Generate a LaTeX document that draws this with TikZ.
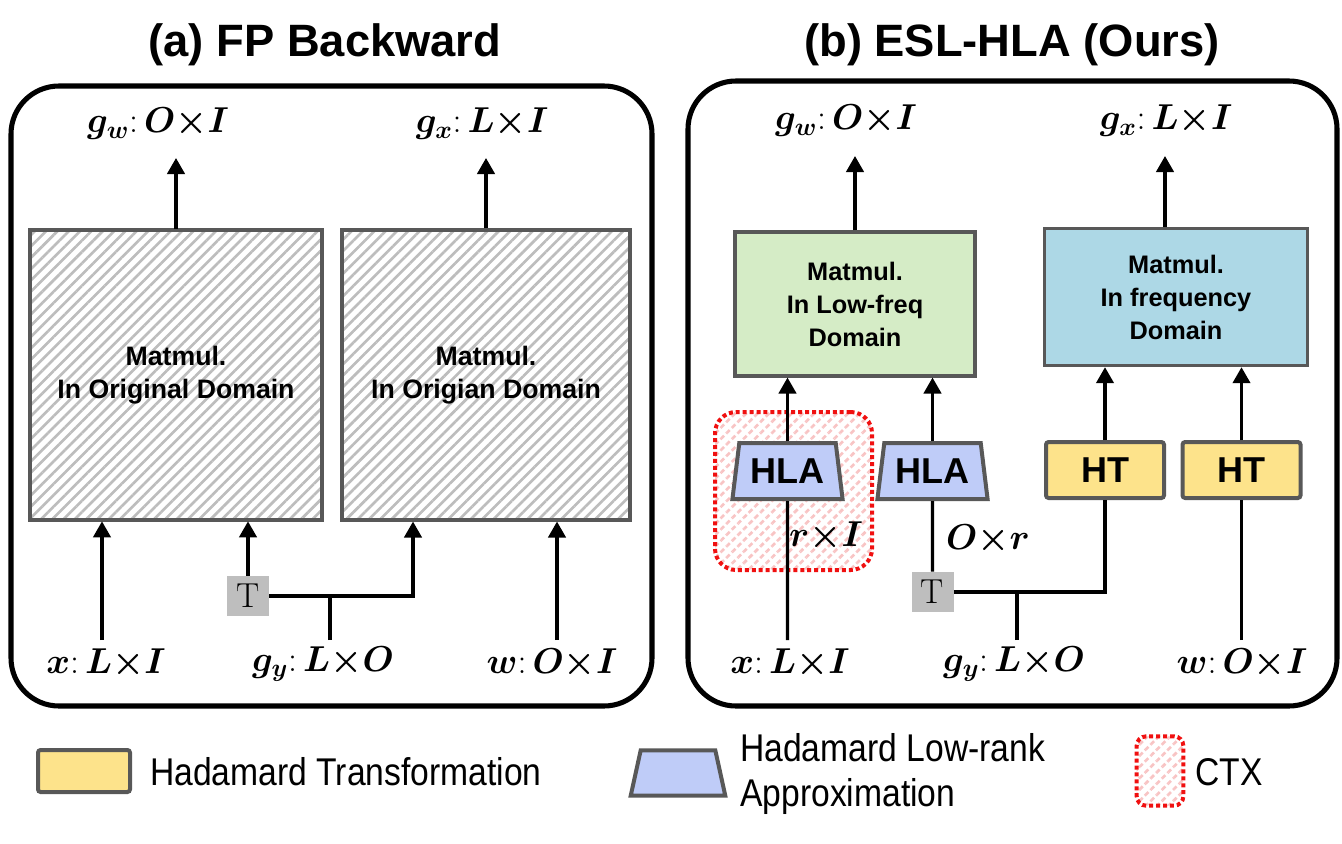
\RequirePackage{fix-cm}
\documentclass[tikz,border=0pt]{standalone}
\usepackage{amsmath,bm}
\usepackage{fontspec}
\newfontfamily\arial{Liberation Sans}
\newfontfamily\arialn[FakeStretch=0.87]{Liberation Sans}
\usetikzlibrary{shapes.geometric,patterns.meta,arrows.meta}
\definecolor{htfill}{HTML}{FDE38B}
\definecolor{hlafill}{HTML}{BFCCF8}
\definecolor{greenfill}{HTML}{D5ECC6}
\definecolor{bluefill}{HTML}{ADD8E6}
\definecolor{boxgray}{HTML}{585858}
\definecolor{hatchgray}{HTML}{BDBDBD}
\definecolor{tgray}{HTML}{BEBEBE}
\definecolor{ctxred}{HTML}{F01010}
\definecolor{ctxpink}{HTML}{F8C4C4}
\begin{document}
\begin{tikzpicture}[x=0.75pt,y=-0.75pt,
  panel/.style={draw=black,line width=3.8pt,rounded corners=36pt},
  title/.style={font=\arial\bfseries\fontsize{34}{40}\selectfont},
  hatchbox/.style={draw=boxgray,line width=2.3pt,
    pattern={Lines[angle=45,distance=6pt,line width=2pt]},pattern color=hatchgray,
    align=center,font=\arial\bfseries\fontsize{20}{24.75}\selectfont},
  mmbox/.style={draw=boxgray,line width=2.3pt,align=center,
    font=\arial\bfseries\fontsize{19}{24.75}\selectfont},
  htbox/.style={draw=boxgray,fill=htfill,line width=3pt,rounded corners=2pt,
    minimum width=88.5pt,minimum height=42pt,inner sep=0pt,
    font=\arial\bfseries\fontsize{27}{30}\selectfont},
  hlabox/.style={trapezium,trapezium angle=78,trapezium stretches=true,
    draw=boxgray,fill=hlafill,line width=3pt,
    minimum width=83pt,minimum height=42pt,inner sep=0pt,
    font=\arial\bfseries\fontsize{27}{30}\selectfont},
  tbox/.style={fill=tgray,minimum width=31.5pt,minimum height=30pt,inner sep=0pt,
    font=\fontsize{26}{26}\selectfont},
  ctxbox/.style={draw=ctxred,line width=3pt,dash pattern=on 3pt off 2.2pt,
    rounded corners=16pt,
    pattern={Lines[angle=45,distance=6pt,line width=2pt]},pattern color=ctxpink},
  mlab/.style={font=\fontsize{27}{30}\selectfont,inner sep=0pt},
  leg/.style={font=\arialn\fontsize{29}{34}\selectfont,align=left,inner sep=0pt},
  ln/.style={line width=2.4pt},
  arr/.style={line width=2.4pt,-{Triangle[width=13pt,length=12pt]}},
]
\useasboundingbox (0,0) rectangle (1342,843);

% ---------- titles ----------
\node[title] (ta) at (325,45) {(a) FP Backward};
\node[title] (tb) at (1012,45) {(b) ESL-HLA (Ours)};

% ---------- panels ----------
\draw[panel] (11,86) rectangle (652,706);
\draw[panel] (688,81) rectangle (1337,706);

% ---------- (a) ----------
\node[hatchbox,minimum width=219pt,minimum height=217.5pt] (m1) at (176,375) {Matmul.\\In Original Domain};
\node[hatchbox,minimum width=216pt,minimum height=217.5pt] (m2) at (486,375) {Matmul.\\In Origian Domain};

\node[mlab] (gw1) at (158,124) {$\bm{g_w}\mathbf{:}\,\bm{O{\times}I}$};
\node[mlab] (gx1) at (482,124) {$\bm{g_x}\mathbf{:}\,\bm{L{\times}I}$};
\coordinate (gw1t) at (176,158);
\coordinate (gx1t) at (486,158);
\draw[arr] (m1.north) -- (gw1t);
\draw[arr] (m2.north) -- (gx1t);

\node[mlab] (x1) at (106,664) {$\bm{x}\mathbf{:}\,\bm{L{\times}I}$};
\node[mlab] (gy1) at (323,664) {$\bm{g_y}\mathbf{:}\,\bm{L{\times}O}$};
\node[mlab] (w1) at (552,664) {$\bm{w}\mathbf{:}\,\bm{O{\times}I}$};
\coordinate (x1b) at (102,640);
\coordinate (gy1b) at (330,640);
\coordinate (w1b) at (557,640);
\coordinate (j1) at (330,596);

\node[tbox] (t1) at (248,596) {T};
\draw[arr] (x1b) -- (x1b |- m1.south);
\draw[arr] (w1b) -- (w1b |- m2.south);
\draw[arr] (t1.north) -- (t1.north |- m1.south);
\draw[ln] (gy1b) -- (j1);
\draw[arr] (t1.east) -| ([xshift=-54.75pt]m2.south);

% ---------- (b) ----------
\node[mmbox,fill=greenfill,minimum width=180pt,minimum height=108pt] (g) at (855,304) {Matmul.\\In Low-freq\\Domain};
\node[mmbox,fill=bluefill,minimum width=197pt,minimum height=103pt] (b) at (1176,297) {Matmul.\\In frequency\\Domain};

\node[mlab] (gw2) at (846,121) {$\bm{g_w}\mathbf{:}\,\bm{O{\times}I}$};
\node[mlab] (gx2) at (1166,121) {$\bm{g_x}\mathbf{:}\,\bm{L{\times}I}$};
\coordinate (gw2t) at (855,156);
\coordinate (gx2t) at (1165,156);
\draw[arr] (g.north) -- (gw2t);
\draw[arr] (gx2t |- b.north) -- (gx2t);

\node[ctxbox,minimum width=117.75pt,minimum height=118.5pt] (ctx) at (793.5,491) {};

\node[hlabox] (h1) at (787.5,471) {HLA};
\node[hlabox] (h2) at (932.5,471) {HLA};
\node[htbox] (ht1) at (1105,470) {HT};
\node[htbox] (ht2) at (1241.5,470) {HT};
\node[tbox] (t2) at (932.5,592) {T};

\node[mlab] (x2) at (790,664) {$\bm{x}\mathbf{:}\,\bm{L{\times}I}$};
\node[mlab] (gy2) at (1014,664) {$\bm{g_y}\mathbf{:}\,\bm{L{\times}O}$};
\node[mlab] (w2) at (1242,664) {$\bm{w}\mathbf{:}\,\bm{O{\times}I}$};
\node[mlab] (rI) at (826,537) {$\bm{r{\times}I}$};
\node[mlab] (Or) at (988,540) {$\bm{O{\times}r}$};

\coordinate (x2b) at (787.5,640);
\coordinate (gy2b) at (1017,640);
\coordinate (w2b) at (1241.5,640);
\coordinate (j2) at (1017,592);

\draw[ln] (x2b) -- (h1.south);
\draw[arr] (h1.north) -- (h1.north |- g.south);
\draw[ln] (t2.north) -- (h2.south);
\draw[arr] (h2.north) -- (h2.north |- g.south);
\draw[ln] (gy2b) -- (j2);
\draw[ln] (t2.east) -| (ht1.south);
\draw[arr] (ht1.north) -- (ht1.north |- b.south);
\draw[ln] (w2b) -- (ht2.south);
\draw[arr] (ht2.north) -- (ht2.north |- b.south);

% ---------- legend ----------
\node[htbox,minimum width=69pt,minimum height=31.5pt] (lht) at (84,771) {};
\node[leg,anchor=west] (lhtt) at (150,772) {Hadamard Transformation};
\node[hlabox,trapezium angle=82,minimum width=71pt,minimum height=34pt] (lhla) at (678,773) {\phantom{x}};
\node[leg,anchor=west] (lhlat) at (740,774) {Hadamard Low-rank\\Approximation};
\node[ctxbox,rounded corners=7pt,minimum width=35pt,minimum height=52pt] (lctx) at (1160,771) {};
\node[leg,anchor=west] (lctxt) at (1195,772) {CTX};
\end{tikzpicture}
\end{document}
